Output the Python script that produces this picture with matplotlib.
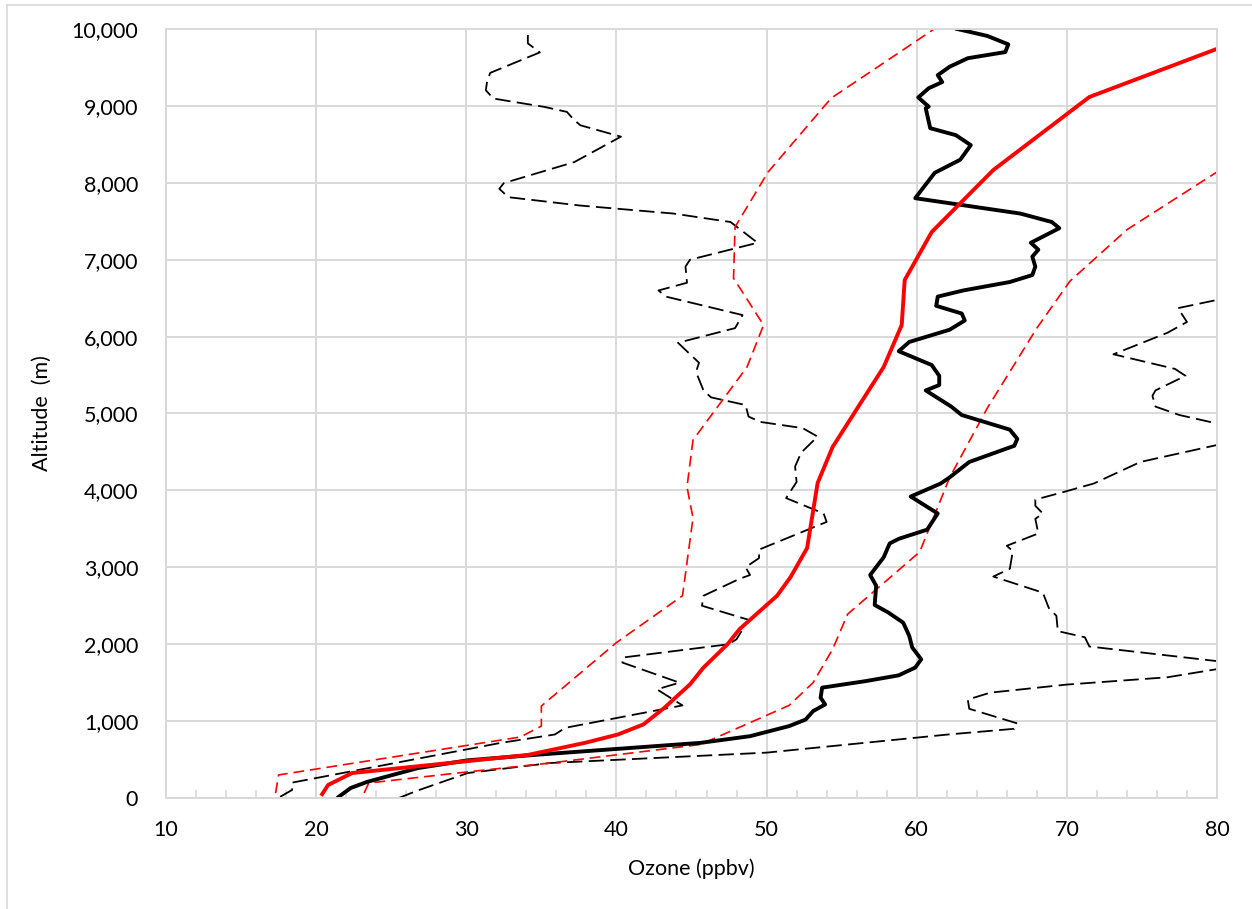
import matplotlib
matplotlib.use("Agg")
import matplotlib.pyplot as plt
from matplotlib.ticker import MultipleLocator, FuncFormatter
from matplotlib.lines import Line2D

plt.rcParams['font.family'] = ['Lato', 'DejaVu Sans']

# red solid line (mean) and red dashed envelope
red_mean_alt = [50, 170, 325, 560, 717, 826, 957, 1174, 1478, 1696, 2000, 2196, 2630, 2874, 3250,
                4096, 4565, 5605, 6150, 6736, 7360, 8166, 9116, 10110]
red_mean_o3 = [20.4, 20.8, 22.4, 34.1, 37.9, 40.1, 41.8, 43.2, 44.9, 45.8, 47.4, 48.2, 50.7, 51.6, 52.7,
               53.4, 54.4, 57.8, 59.0, 59.2, 61.0, 65.1, 71.5, 85.0]

red_low_alt = [65, 300, 793, 935, 1196, 2020, 2630, 3640, 4045, 4655, 5605, 6150, 6760, 7425, 8140, 9100, 10110]
red_low_o3 = [17.3, 17.5, 33.6, 35.0, 35.0, 40.0, 44.4, 45.1, 44.7, 45.1, 48.7, 49.8, 47.8, 47.9, 50.1, 54.3, 62.0]

red_high_alt = [65, 195, 340, 455, 696, 1204, 1500, 1935, 2391, 3200, 4170, 5070, 6110, 6720, 7390, 8166, 9116]
red_high_o3 = [23.2, 23.5, 30.1, 35.6, 45.6, 51.5, 53.1, 54.4, 55.4, 60.2, 62.2, 64.7, 68.0, 70.2, 74.0, 80.2, 88.5]

# black solid profile
black_alt = [15, 130, 210, 390, 490, 560, 717, 804, 935, 1020, 1130, 1217, 1304, 1435, 1520, 1595, 1696,
             1804, 1957, 2110, 2280, 2413, 2510, 2760, 2900, 3130, 3310, 3370, 3490, 3700, 3920, 4090,
             4170, 4370, 4580, 4670, 4790, 4980, 5090, 5300, 5370, 5490, 5630, 5810, 5930, 6090, 6210,
             6300, 6400, 6520, 6600, 6710, 6800, 6910, 7040, 7130, 7220, 7410, 7490, 7600, 7800, 8130,
             8300, 8490, 8620, 8710, 8970, 8990, 9110, 9230, 9310, 9400, 9510, 9620, 9700, 9800, 9910, 10000]
black_o3 = [21.5, 22.3, 23.4, 26.8, 30.1, 34.5, 45.6, 48.9, 51.5, 52.6, 53.1, 53.9, 53.6, 53.7, 56.6, 58.8, 59.9,
            60.3, 59.7, 59.5, 59.1, 58.1, 57.2, 57.3, 56.9, 57.8, 58.2, 58.8, 60.7, 61.4, 59.6, 61.6,
            62.2, 63.5, 66.5, 66.7, 66.2, 63.0, 62.3, 60.6, 61.5, 61.5, 61.0, 58.8, 59.5, 62.2, 63.2,
            63.0, 61.3, 61.4, 63.1, 66.2, 67.7, 67.9, 67.7, 68.1, 67.6, 69.5, 69.0, 66.9, 59.9, 61.2,
            62.9, 63.6, 62.6, 60.9, 60.6, 60.8, 60.1, 60.8, 61.7, 61.4, 62.2, 63.4, 65.9, 66.1, 64.7, 62.7]

# black dashed envelope, left side
black_low_alt = [15, 105, 200, 717, 826, 913, 1204, 1413, 1500, 1761, 1826, 2000, 2065, 2317, 2500, 2630,
                 2850, 2900, 3000, 3120, 3230, 3590, 3700, 3900, 4110, 4310, 4490, 4700, 4810, 4890, 4960,
                 5110, 5210, 5300, 5540, 5660, 5920, 6110, 6280, 6520, 6600, 6700, 6910, 7000, 7220, 7490,
                 7600, 7704, 7813, 7922, 7996, 8270, 8600, 8748, 8813, 8922, 8987, 9096, 9204, 9335, 9430,
                 9696, 9813, 9922]
black_low_o3 = [17.6, 18.4, 18.4, 32.3, 35.9, 36.6, 44.4, 42.7, 44.2, 40.4, 40.4, 47.5, 48.0, 48.8, 45.7, 45.8,
                48.2, 48.9, 48.6, 49.5, 49.5, 54.0, 53.8, 51.3, 52.0, 51.9, 52.3, 53.4, 52.4, 49.6, 48.8,
                48.6, 46.3, 45.8, 45.3, 45.5, 44.1, 47.9, 48.4, 43.3, 42.8, 44.7, 44.6, 44.9, 49.4, 47.6,
                43.8, 37.6, 32.8, 32.2, 32.5, 37.2, 40.3, 37.6, 37.2, 36.7, 35.2, 31.8, 31.3, 31.4, 31.6,
                34.9, 34.1, 34.1]

# black dashed envelope, right side
black_high_alt = [0, 100, 325, 455, 590, 826, 900, 970, 1160, 1280, 1370, 1475, 1570, 1740, 1780, 1970,
                  2090, 2170, 2370, 2470, 2670, 2880, 2980, 3210, 3280, 3440, 3630, 3700, 3800, 3880, 3980,
                  4090, 4370, 4720, 4870, 4980, 5090, 5230, 5300, 5490, 5580, 5770, 6050, 6190, 6370, 6600]
black_high_o3 = [25.5, 26.8, 30.1, 35.6, 50.0, 62.1, 66.5, 66.7, 63.5, 63.4, 64.9, 70.0, 76.7, 82.0, 80.0, 71.5,
                 71.2, 69.4, 69.3, 68.8, 68.4, 65.1, 66.2, 66.4, 66.0, 68.1, 67.9, 68.4, 67.9, 67.9, 69.8,
                 71.8, 74.9, 83.0, 80.0, 77.5, 75.9, 75.7, 75.9, 77.9, 77.2, 73.1, 76.7, 78.0, 77.4, 83.0]

grid_col = '#d9d9d9'

fig = plt.figure(figsize=(12.52, 9.09), dpi=100)
ax = fig.add_axes([166 / 1252, 1 - 798 / 909, (1217 - 166) / 1252, (798 - 29) / 909])

ax.plot(black_low_o3, black_low_alt, color='black', lw=1.3, dashes=(8.5, 3.5))
ax.plot(black_high_o3, black_high_alt, color='black', lw=1.3, dashes=(8.5, 3.5))
ax.plot(red_low_o3, red_low_alt, color='#ff0000', lw=1.2, dashes=(6.5, 3.5))
ax.plot(red_high_o3, red_high_alt, color='#ff0000', lw=1.2, dashes=(6.5, 3.5))
ax.plot(black_o3, black_alt, color='black', lw=2.8, solid_joinstyle='round')
ax.plot(red_mean_o3, red_mean_alt, color='#ff0000', lw=2.8, solid_joinstyle='round')

ax.set_xlim(10, 80)
ax.set_ylim(0, 10000)
ax.xaxis.set_major_locator(MultipleLocator(10))
ax.xaxis.set_minor_locator(MultipleLocator(2))
ax.yaxis.set_major_locator(MultipleLocator(1000))
ax.yaxis.set_major_formatter(FuncFormatter(lambda v, p: f'{int(v):,}'))

ax.grid(True, which='major', color=grid_col, lw=1.4)
ax.set_axisbelow(True)
for s in ax.spines.values():
    s.set_color(grid_col)
    s.set_linewidth(1.4)

ax.tick_params(axis='x', which='major', length=0, pad=16, labelsize=15.5)
ax.tick_params(axis='x', which='minor', direction='in', length=6, width=1.2, color=grid_col)
ax.tick_params(axis='y', which='major', length=0, pad=20, labelsize=15.5)

ax.set_xlabel('Ozone (ppbv)', fontsize=15.5, labelpad=13)
ax.set_ylabel('Altitude  (m)', fontsize=15.5, labelpad=14)

# thin frame around the chart area
fig.add_artist(Line2D([7 / 1252, 7 / 1252], [0, 1 - 5 / 909], color=grid_col, lw=1.2))
fig.add_artist(Line2D([7 / 1252, 1], [1 - 5 / 909, 1 - 5 / 909], color=grid_col, lw=1.2))

fig.savefig('out.png', dpi=100)
